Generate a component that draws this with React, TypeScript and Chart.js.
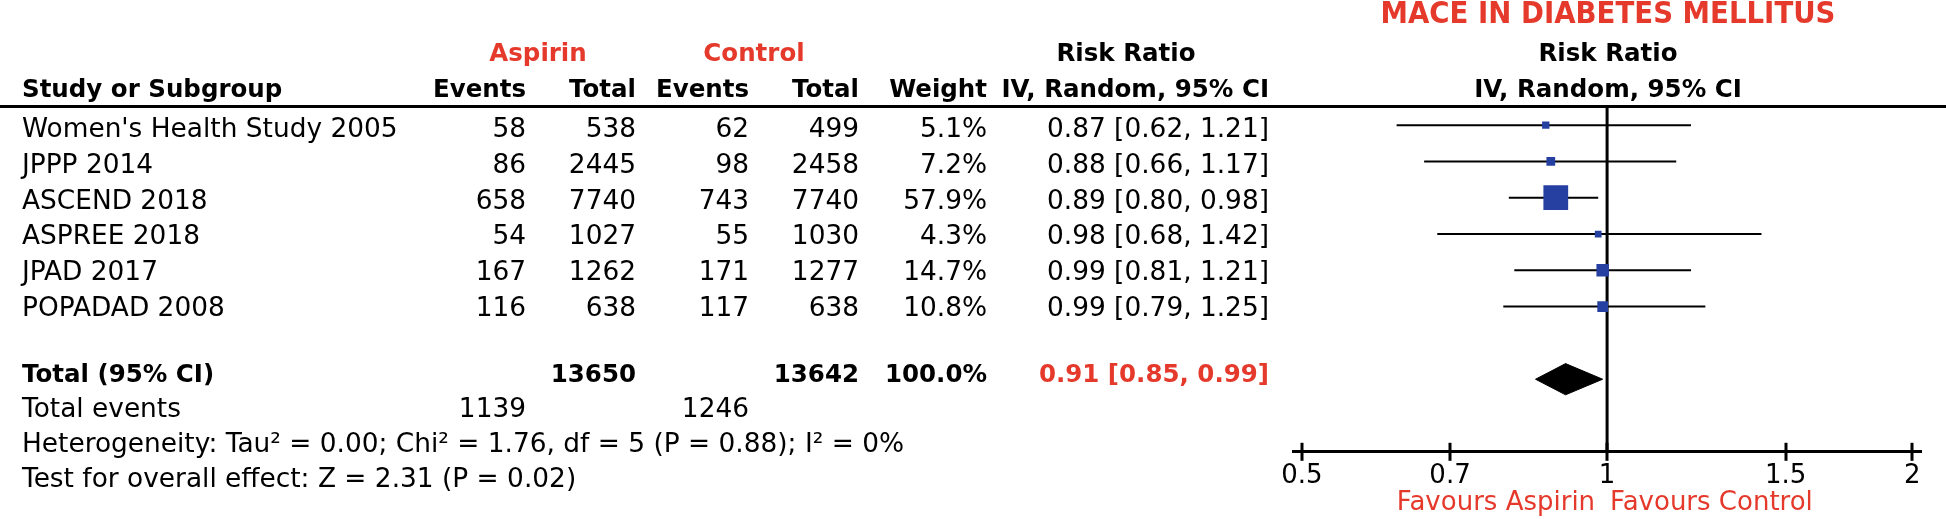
import React, { useEffect, useRef } from 'react';
import { Chart, registerables } from 'chart.js';

Chart.register(...registerables);

// ---------- data ----------
const STUDIES = ["Women's Health Study 2005", 'JPPP 2014', 'ASCEND 2018', 'ASPREE 2018', 'JPAD 2017', 'POPADAD 2008'];
const ASPIRIN_EVENTS = [58, 86, 658, 54, 167, 116];
const ASPIRIN_TOTAL = [538, 2445, 7740, 1027, 1262, 638];
const CONTROL_EVENTS = [62, 98, 743, 55, 171, 117];
const CONTROL_TOTAL = [499, 2458, 7740, 1030, 1277, 638];
const WEIGHTS = [5.1, 7.2, 57.9, 4.3, 14.7, 10.8];
const RISK_RATIO = [0.87, 0.88, 0.89, 0.98, 0.99, 0.99];
const CI_LOW = [0.62, 0.66, 0.8, 0.68, 0.81, 0.79];
const CI_HIGH = [1.21, 1.17, 0.98, 1.42, 1.21, 1.25];
const TOTAL_RR = [0.91];
const TOTAL_CI = [0.85, 0.99];
const TOTAL_N = [13650, 13642];
const TOTAL_EVENTS = [1139, 1246];
const TICKS = [0.5, 0.7, 1, 1.5, 2];
const TICK_LABELS = ['0.5', '0.7', '1', '1.5', '2'];
const TITLE = 'MACE IN DIABETES MELLITUS';
const HETEROGENEITY = 'Heterogeneity: Tau² = 0.00; Chi² = 1.76, df = 5 (P = 0.88); I² = 0%';
const OVERALL = 'Test for overall effect: Z = 2.31 (P = 0.02)';

// ---------- layout / style ----------
const W = 1946;
const H = 519;
const FONT = '"DejaVu Sans", sans-serif';
const RED = '#e5392b';
const BLUE = '#2540a0';
const TOTAL_ROW = 7;
const DIAMOND_HALF = 0.43;
const SQUARE_SCALE = 2.3;
const COL = { name: 22, aEv: 526, aTot: 636, cEv: 749, cTot: 859, weight: 987, rr: 1269, plot: 1608 };

const fmt2 = (v: number) => v.toFixed(2);

const textPlugin = {
  id: 'forestText',
  afterDraw(chart: any) {
    const ctx = chart.ctx as CanvasRenderingContext2D;
    const xs = chart.scales.x;
    const ys = chart.scales.y;
    ctx.save();
    ctx.fillStyle = '#000';
    // header rule
    ctx.fillRect(0, 105, W, 3);
    // tick marks crossing the axis
    const axisY = ys.getPixelForValue(9);
    TICKS.forEach((v) => {
      const x = xs.getPixelForValue(v);
      ctx.fillRect(Math.round(x) - 1.5, axisY - 9, 3, 18);
    });

    const text = (s: string, x: number, y: number, align: CanvasTextAlign, font: string, color = '#000', maxW?: number) => {
      ctx.font = font;
      ctx.fillStyle = color;
      ctx.textAlign = align;
      ctx.textBaseline = 'alphabetic';
      if (maxW) ctx.fillText(s, x, y, maxW);
      else ctx.fillText(s, x, y);
    };
    const reg = `26.4px ${FONT}`;
    const bold = `bold 24.5px ${FONT}`;

    // title
    text(TITLE, COL.plot, 23, 'center', `bold 31px "DejaVu Sans Condensed", ${FONT}`, RED, 455);
    // header line 1
    text('Aspirin', 538, 61, 'center', bold, RED);
    text('Control', 754, 61, 'center', bold, RED);
    text('Risk Ratio', 1126, 61, 'center', bold);
    text('Risk Ratio', COL.plot, 61, 'center', bold);
    // header line 2
    text('Study or Subgroup', COL.name, 97, 'left', bold);
    text('Events', COL.aEv, 97, 'right', bold);
    text('Total', COL.aTot, 97, 'right', bold);
    text('Events', COL.cEv, 97, 'right', bold);
    text('Total', COL.cTot, 97, 'right', bold);
    text('Weight', COL.weight, 97, 'right', bold);
    text('IV, Random, 95% CI', COL.rr, 97, 'right', bold);
    text('IV, Random, 95% CI', COL.plot, 97, 'center', bold);

    // study rows
    STUDIES.forEach((s, i) => {
      const b = ys.getPixelForValue(i) + 12 - 0.6 * i;
      text(s, COL.name, b, 'left', reg);
      text(String(ASPIRIN_EVENTS[i]), COL.aEv, b, 'right', reg);
      text(String(ASPIRIN_TOTAL[i]), COL.aTot, b, 'right', reg);
      text(String(CONTROL_EVENTS[i]), COL.cEv, b, 'right', reg);
      text(String(CONTROL_TOTAL[i]), COL.cTot, b, 'right', reg);
      text(`${WEIGHTS[i].toFixed(1)}%`, COL.weight, b, 'right', reg);
      text(`${fmt2(RISK_RATIO[i])} [${fmt2(CI_LOW[i])}, ${fmt2(CI_HIGH[i])}]`, COL.rr, b, 'right', reg);
    });

    // total row
    const tb = ys.getPixelForValue(TOTAL_ROW) + 3;
    text('Total (95% CI)', COL.name, tb, 'left', bold);
    text(String(TOTAL_N[0]), COL.aTot, tb, 'right', bold);
    text(String(TOTAL_N[1]), COL.cTot, tb, 'right', bold);
    const wSum = WEIGHTS.reduce((a, b) => a + b, 0);
    text(`${wSum.toFixed(1)}%`, COL.weight, tb, 'right', bold);
    text(`${fmt2(TOTAL_RR[0])} [${fmt2(TOTAL_CI[0])}, ${fmt2(TOTAL_CI[1])}]`, COL.rr, tb, 'right', bold, RED);

    // footer
    text('Total events', COL.name, 417, 'left', reg);
    text(String(TOTAL_EVENTS[0]), COL.aEv, 417, 'right', reg);
    text(String(TOTAL_EVENTS[1]), COL.cEv, 417, 'right', reg);
    text(HETEROGENEITY, COL.name, 452, 'left', reg);
    text(OVERALL, COL.name, 487, 'left', reg);

    // favours
    const one = xs.getPixelForValue(1);
    text('Favours Aspirin', one - 12, 510, 'right', `26px ${FONT}`, RED);
    text('Favours Control', one + 3, 510, 'left', `26px ${FONT}`, RED);
    ctx.restore();
  },
};

export default function App() {
  const ref = useRef<HTMLCanvasElement | null>(null);
  useEffect(() => {
    if (!ref.current) return;
    const ciSets = STUDIES.map((s, i) => ({
      type: 'line' as const,
      label: s,
      data: [
        { x: CI_LOW[i], y: i },
        { x: CI_HIGH[i], y: i },
      ],
      borderColor: '#000',
      borderWidth: 2,
      pointRadius: 0,
      fill: false,
      order: 2,
    }));
    const chart = new Chart(ref.current, {
      type: 'scatter',
      data: {
        datasets: [
          {
            label: 'Risk ratio',
            data: RISK_RATIO.map((v, i) => ({ x: v, y: i })),
            pointStyle: 'rect',
            pointRadius: (c: any) => SQUARE_SCALE * Math.sqrt(WEIGHTS[c.dataIndex] ?? 1),
            backgroundColor: BLUE,
            borderWidth: 0,
            order: 0,
          } as any,
          {
            type: 'line',
            label: 'Total',
            data: [
              { x: TOTAL_CI[0], y: TOTAL_ROW },
              { x: TOTAL_RR[0], y: TOTAL_ROW - DIAMOND_HALF },
              { x: TOTAL_CI[1], y: TOTAL_ROW },
              { x: TOTAL_RR[0], y: TOTAL_ROW + DIAMOND_HALF },
              { x: TOTAL_CI[0], y: TOTAL_ROW },
            ],
            borderColor: '#000',
            backgroundColor: '#000',
            borderWidth: 1,
            pointRadius: 0,
            fill: 'shape',
            order: 1,
          } as any,
          {
            type: 'line',
            label: 'No effect',
            data: [
              { x: 1, y: -0.5 },
              { x: 1, y: 9 },
            ],
            borderColor: '#000',
            borderWidth: 3,
            pointRadius: 0,
            fill: false,
            order: 3,
          } as any,
          ...(ciSets as any[]),
        ],
      },
      options: {
        animation: false,
        responsive: false,
        events: [],
        layout: { padding: { left: 1293, right: 25, top: 107, bottom: 18 } },
        plugins: { legend: { display: false }, tooltip: { enabled: false }, title: { display: false } },
        scales: {
          x: {
            type: 'logarithmic',
            min: 0.49,
            max: 2.04,
            afterBuildTicks: (scale: any) => {
              scale.ticks = TICKS.map((v) => ({ value: v }));
            },
            ticks: {
              autoSkip: false,
              maxRotation: 0,
              padding: 9,
              color: '#000',
              font: { family: FONT, size: 26 },
              callback: (v: any) => {
                const k = TICKS.indexOf(Number(v));
                return k >= 0 ? TICK_LABELS[k] : '';
              },
            },
            grid: { display: true, drawOnChartArea: false, drawTicks: false, color: 'rgba(0,0,0,0)' },
            border: { display: true, color: '#000', width: 3 },
          },
          y: {
            type: 'linear',
            reverse: true,
            min: -0.5,
            max: 9,
            display: false,
          },
        },
      },
      plugins: [textPlugin],
    } as any);
    return () => chart.destroy();
  }, []);
  return (
    <div style={{ position: 'fixed', left: 0, top: 0, width: W, height: H, background: '#fff' }}>
      <canvas ref={ref} width={W} height={H} style={{ width: W, height: H, display: 'block' }} />
    </div>
  );
}
